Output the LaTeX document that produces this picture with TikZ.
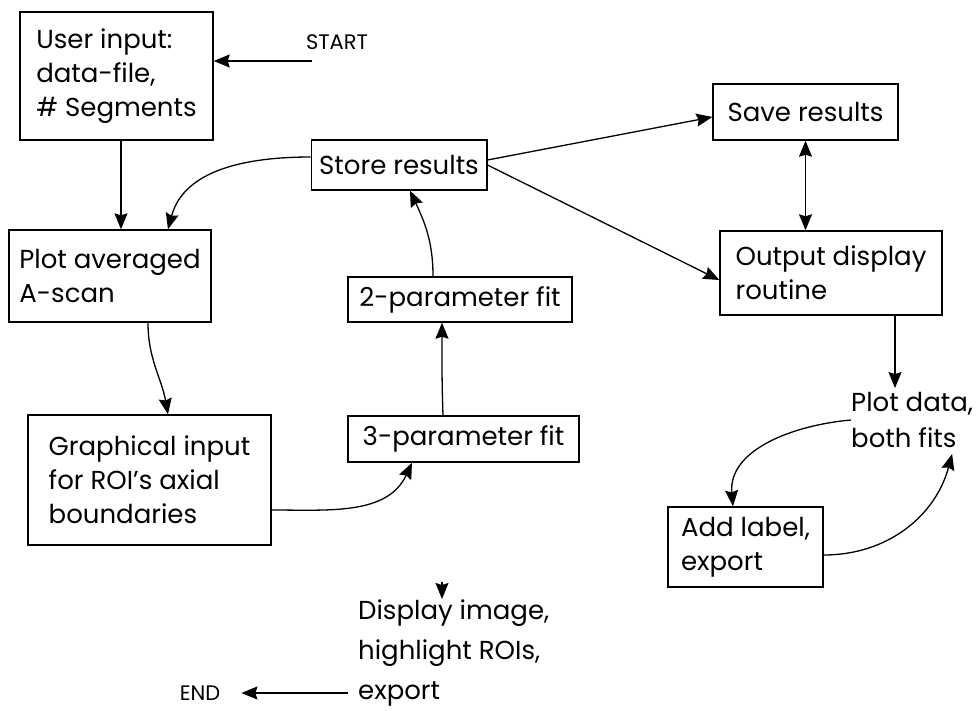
\documentclass[tikz,border=0pt]{standalone}
\usepackage{fontspec}
\setmainfont{Poppins}
\usetikzlibrary{arrows.meta}

\begin{document}
\begin{tikzpicture}[x=1pt,y=-1pt,
  box/.style={draw, line width=1.4pt, align=left, inner xsep=8pt, inner ysep=0pt,
    font=\fontsize{26}{34}\selectfont},
  txt/.style={align=left, inner sep=0pt, font=\fontsize{26}{36}\selectfont},
  tag/.style={inner sep=0pt, font=\fontsize{21}{25}\selectfont},
  arr/.style={line width=1.3pt, -{Stealth[length=16pt,width=13pt,inset=2pt]}},
  darr/.style={line width=1.3pt, {Stealth[length=16pt,width=13pt,inset=2pt]}-{Stealth[length=16pt,width=13pt,inset=2pt]}}]
  \useasboundingbox (0,0) rectangle (979,710);

  % boxes
  \node [box, minimum width=193pt, minimum height=128pt] (user) at (116.5,76) {User input:\\data-file,\\\# Segments};
  \node [box, minimum width=202pt, minimum height=92pt] (plot) at (110,276) {Plot averaged\\A-scan};
  \node [box, minimum width=243pt, minimum height=130pt] (graph) at (149.5,480) {Graphical input\\for ROI's axial\\boundaries};
  \node [box, minimum width=172pt, minimum height=50pt] (store) at (399,165) {Store results};
  \node [box, minimum width=224pt, minimum height=45pt] (two) at (460,299.5) {2-parameter fit};
  \node [box, minimum width=231pt, minimum height=46pt] (three) at (463.5,439) {3-parameter fit};
  \node [box, minimum width=185pt, minimum height=56pt] (save) at (805.5,112) {Save results};
  \node [box, minimum width=222pt, minimum height=84pt] (output) at (831,273) {Output display\\routine};
  \node [box, minimum width=155pt, minimum height=80pt] (addl) at (745.5,547) {Add label,\\export};

  % free texts
  \node [txt, anchor=west] (plotd) at (851,420) {Plot data,\\both fits};
  \node [txt, anchor=west, font=\fontsize{26}{40}\selectfont] (disp) at (358,653) {Display image,\\highlight ROIs,\\export};
  \node [tag] (start) at (337,42) {START};
  \node [tag] (end) at (200,693) {END};
  \coordinate (s0) at (312,61);
  \coordinate (hd) at (442,582);

  % connectors
  \draw [arr] (s0) -- (s0 -| user.east);
  \draw [arr] ([xshift=4.5pt]user.south) -- ([xshift=4.5pt]user.south |- plot.north);
  \draw [arr] ([yshift=8pt]store.west) to[out=180,in=75] ([xshift=58pt]plot.north);
  \draw [arr] ([xshift=38pt]plot.south) to[out=-90,in=100] ([xshift=18.5pt]graph.north);
  \draw [arr] ([yshift=-30pt]graph.east) to[out=0,in=-115] ([xshift=-51.5pt]three.south);
  \draw [arr] ([xshift=-20.5pt]three.north) to[out=92,in=-90] ([xshift=-18pt]two.south);
  \draw [arr] ([xshift=-27pt]two.north) to[out=90,in=-65] ([xshift=11pt]store.south);
  \draw [arr] ([yshift=5pt]store.east) -- ([yshift=-5pt]save.west);
  \draw [arr] (store.east) -- ([yshift=-7pt]output.west);
  \draw [darr] (save.south) -- (save.south |- output.north);
  \draw [arr] ([xshift=64pt]output.south) -- ([xshift=64pt,yshift=4pt]output.south |- plotd.north);
  \draw [arr] (plotd.west) to[out=185,in=95] ([xshift=-12.5pt]addl.north);
  \draw [arr] ([yshift=-8pt]addl.east) to[out=0,in=-105] ([xshift=40pt,yshift=-6pt]plotd.south);
  \draw [arr] (hd) -- ++(0,17);
  \draw [arr] ([xshift=-10pt]disp.west |- end) -- ([xshift=21pt]end.east);
\end{tikzpicture}
\end{document}
